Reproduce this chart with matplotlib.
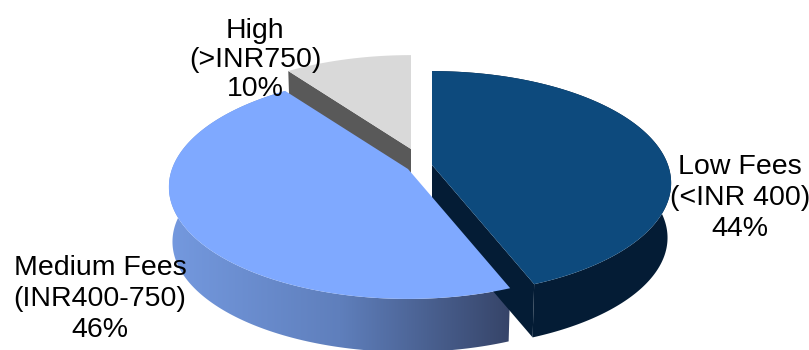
import numpy as np
import matplotlib

matplotlib.use("Agg")
import matplotlib.pyplot as plt
from matplotlib.colors import LinearSegmentedColormap
from matplotlib.patches import Polygon

# data, clockwise from 12 o'clock
labels = ["Low Fees\n(<INR 400)\n44%", "Medium Fees\n(INR400-750)\n46%", "High\n(>INR750)\n10%"]
shares = [44, 46, 10]

top_colors = ["#0D4A7D", "#7FA9FF", "#D9D9D9"]
wall_colors = ["#041C35", None, "#595959"]
apexes = [(432, 165), (408, 169), (411, 149)]
label_pos = [(740, 198), (100, 299), (255, 60)]
label_spacing = [1.25, 1.25, 1.14]

# perspective of the tilted disk, in pixels
RX, RY, PERSP = 236, 109, 0.161
DEPTH, SHRINK = 55, 0.985

plt.rcParams["font.family"] = ["Liberation Sans"]

fig = plt.figure(figsize=(8.09, 3.5), dpi=100)
ax = fig.add_axes([0, 0, 1, 1])


def project(t, apex, lower=False):
    u, v = np.cos(t), np.sin(t)
    d = 1 + PERSP * v
    scale = SHRINK if lower else 1.0
    shift = DEPTH if lower else 0
    return np.column_stack([apex[0] + scale * RX * u / d,
                            apex[1] + shift - scale * RY * v / d])


def top_polygon(t, apex):
    return np.vstack([[apex], project(t, apex)])


def wall_polygon(t, apex):
    return np.vstack([project(t, apex), project(t, apex, lower=True)[::-1]])


def radial_face(t_end, apex):
    tip_top = project(np.array([t_end]), apex)[0]
    tip_low = project(np.array([t_end]), apex, lower=True)[0]
    return [apex, tip_top, tip_low, (apex[0], apex[1] + DEPTH)]


# wedge angles from the shares, going clockwise from 90 degrees
ends = 90 - np.cumsum([0] + shares) * 3.6
arcs = [np.radians(np.linspace(ends[i], ends[i + 1], 200)) for i in range(3)]

gradient = LinearSegmentedColormap.from_list("wall", ["#7499DF", "#5F7FBC", "#364468"])

# back to front: high, low, medium
for i in [2, 0, 1]:
    t, apex = arcs[i], apexes[i]
    if i == 2:
        # only the face towards the medium slice shows
        ax.add_patch(Polygon(radial_face(t[0], apex), fc=wall_colors[i], ec="none"))
    elif i == 0:
        ax.add_patch(Polygon(wall_polygon(t, apex), fc=wall_colors[i], ec="none"))
        ax.add_patch(Polygon(radial_face(t[-1], apex), fc=wall_colors[i], ec="none"))
    else:
        poly = wall_polygon(t, apex)
        clip = Polygon(poly, fc="none", ec="none")
        ax.add_patch(clip)
        im = ax.imshow(np.linspace(0, 1, 256).reshape(1, -1), cmap=gradient, aspect="auto",
                       extent=[poly[:, 0].min(), poly[:, 0].max(), poly[:, 1].max(), poly[:, 1].min()])
        im.set_clip_path(clip)
    ax.add_patch(Polygon(top_polygon(t, apex), fc=top_colors[i], ec="none"))

for text, (x, y), sp in zip(labels, label_pos, label_spacing):
    ax.text(x, y, text, ha="center", va="center", fontsize=20.5, linespacing=sp, color="black", zorder=5)

ax.set_xlim(0, 809)
ax.set_ylim(350, 0)
ax.axis("off")

fig.savefig("out.png", dpi=100)
